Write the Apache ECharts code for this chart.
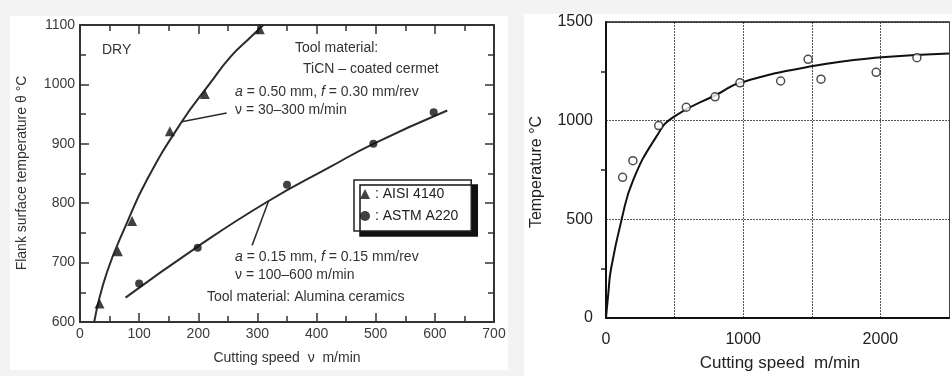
<!DOCTYPE html>
<html>
<head>
<meta charset="utf-8">
<title>Cutting speed vs temperature</title>
<script src="https://cdn.jsdelivr.net/npm/echarts@6/dist/echarts.min.js"></script>
<style>
  html, body { margin: 0; padding: 0; background: #f3f3f3; }
  #chart { width: 952px; height: 376px; }
</style>
</head>
<body>
<div id="chart"></div>
<script>
// left panel: flank temperature vs cutting speed
const aisiPoints = [[33, 631], [64, 719], [88, 770], [152, 921], [211, 984], [304, 1093]];
const astmPoints = [[100, 665], [199, 725], [350, 831], [496, 900], [598, 953]];
const aisiCurve = [[24, 600], [45, 682], [79, 766], [113, 839], [172, 937], [220, 1002], [254, 1046], [287, 1078], [310, 1100]];
const astmCurve = [[77, 641], [199, 727], [316, 802], [423, 861], [496, 900], [621, 956]];
const leftXTicks = { min: 0, max: 700, step: 100 };
const leftYTicks = { min: 600, max: 1100, step: 100 };

// right panel: temperature vs cutting speed
const tempPoints = [[121, 713], [196, 797], [384, 975], [585, 1068], [795, 1121], [976, 1192],
  [1273, 1201], [1473, 1311], [1567, 1210], [1969, 1245], [2266, 1319]];
const tempCurve = [[0, 0], [17, 125], [36, 247], [114, 500], [198, 699], [367, 919], [488, 1017],
  [826, 1139], [976, 1192], [1509, 1277], [2010, 1321], [2500, 1341]];
const rightXTicks = { min: 0, max: 2500, step: 500 };
const rightYTicks = { min: 0, max: 1500, step: 500 };

const FONT = "'Liberation Sans', Arial, Helvetica, sans-serif";
const INK = '#2b2b2b';

const myChart = echarts.init(document.getElementById('chart'));

// frame axis for the left panel (ticks point inward on every side)
function leftAxis(t, pos, labels, grid) {
  return {
    type: 'value', gridIndex: grid, position: pos,
    min: t.min, max: t.max, interval: t.step,
    axisLine: { show: true, onZero: false, lineStyle: { color: '#333', width: 2 } },
    axisTick: { show: true, inside: true, length: 9, lineStyle: { color: '#333', width: 1.5 } },
    minorTick: { show: true, splitNumber: 2, length: 6, lineStyle: { color: '#333', width: 1.5 } },
    splitLine: { show: false },
    axisLabel: { show: labels, color: '#3a3a3a', fontSize: 14, fontFamily: FONT, margin: 5, formatter: v => String(v) }
  };
}

function italicText(x, y, text) {
  return {
    type: 'text', x: x, y: y, z: 50,
    style: {
      text: text, fill: '#333', fontSize: 14, fontFamily: FONT, verticalAlign: 'middle',
      rich: { i: { fontStyle: 'italic', fontSize: 14, fontFamily: FONT, fill: '#333' } }
    }
  };
}

const option = {
  backgroundColor: '#f3f3f3',
  animation: false,
  grid: [
    { left: 80, top: 25, width: 414, height: 297 },
    { left: 606, top: 22, width: 345, height: 296 }
  ],
  legend: {
    data: ['AISI 4140', 'ASTM A220'],
    orient: 'vertical',
    left: 354, top: 180,
    padding: [7, 13, 8, 6],
    itemGap: 8, itemWidth: 10, itemHeight: 10,
    backgroundColor: '#fff',
    borderColor: '#222', borderWidth: 1.5, borderRadius: 0,
    shadowColor: '#111', shadowBlur: 0, shadowOffsetX: 6, shadowOffsetY: 5,
    formatter: name => ': ' + name,
    textStyle: { color: '#222', fontSize: 14, fontFamily: FONT, lineHeight: 14 }
  },
  xAxis: [
    leftAxis(leftXTicks, 'bottom', true, 0),
    leftAxis(leftXTicks, 'top', false, 0),
    {
      type: 'value', gridIndex: 1, position: 'bottom',
      min: rightXTicks.min, max: rightXTicks.max, interval: rightXTicks.step,
      axisLine: { show: true, onZero: false, lineStyle: { color: '#111', width: 2 } },
      axisTick: { show: false },
      splitLine: { show: true, lineStyle: { color: '#555', type: [2, 1], width: 1 } },
      axisLabel: {
        color: '#222', fontSize: 16, fontFamily: FONT, margin: 14,
        formatter: v => (v % 1000 === 0 && v < rightXTicks.max) ? String(v) : ''
      }
    },
    {
      type: 'value', gridIndex: 1, position: 'top',
      min: rightXTicks.min, max: rightXTicks.max, interval: rightXTicks.step,
      axisLine: { show: true, onZero: false, lineStyle: { color: '#222', width: 1.5 } },
      axisTick: { show: false }, splitLine: { show: false }, axisLabel: { show: false }
    }
  ],
  yAxis: [
    leftAxis(leftYTicks, 'left', true, 0),
    leftAxis(leftYTicks, 'right', false, 0),
    {
      type: 'value', gridIndex: 1, position: 'left',
      min: rightYTicks.min, max: rightYTicks.max, interval: rightYTicks.step,
      axisLine: { show: true, onZero: false, lineStyle: { color: '#111', width: 2 } },
      axisTick: { show: false },
      minorTick: { show: true, splitNumber: 2, length: 5, lineStyle: { color: '#222', width: 1.5 } },
      splitLine: { show: true, lineStyle: { color: '#555', type: [2, 1], width: 1 } },
      axisLabel: { color: '#222', fontSize: 16, fontFamily: FONT, margin: 13, formatter: v => String(v) }
    },
    {
      type: 'value', gridIndex: 1, position: 'right',
      min: rightYTicks.min, max: rightYTicks.max, interval: rightYTicks.step,
      axisLine: { show: true, onZero: false, lineStyle: { color: '#444', width: 1 } },
      axisTick: { show: false }, splitLine: { show: false }, axisLabel: { show: false }
    }
  ],
  series: [
    {
      name: 'AISI curve', type: 'line', xAxisIndex: 0, yAxisIndex: 0,
      data: aisiCurve, smooth: 0.5, showSymbol: false, silent: true,
      lineStyle: { color: INK, width: 2 },
      markLine: {
        silent: true, symbol: 'none', label: { show: false },
        lineStyle: { color: INK, width: 1.5, type: 'solid' },
        data: [[{ coord: [172, 937] }, { coord: [248, 952] }]]
      }
    },
    {
      name: 'ASTM curve', type: 'line', xAxisIndex: 0, yAxisIndex: 0,
      data: astmCurve, smooth: 0.5, showSymbol: false, silent: true,
      lineStyle: { color: INK, width: 2 },
      markLine: {
        silent: true, symbol: 'none', label: { show: false },
        lineStyle: { color: INK, width: 1.5, type: 'solid' },
        data: [[{ coord: [319, 804] }, { coord: [291, 729] }]]
      }
    },
    {
      name: 'AISI 4140', type: 'scatter', xAxisIndex: 0, yAxisIndex: 0,
      data: aisiPoints, symbol: 'triangle', symbolSize: 10, z: 5,
      itemStyle: { color: '#111' }
    },
    {
      name: 'ASTM A220', type: 'scatter', xAxisIndex: 0, yAxisIndex: 0,
      data: astmPoints, symbol: 'circle', symbolSize: 8, z: 5,
      itemStyle: { color: '#111' }
    },
    {
      name: 'Temperature curve', type: 'line', xAxisIndex: 2, yAxisIndex: 2,
      data: tempCurve, smooth: 0.5, showSymbol: false, silent: true,
      lineStyle: { color: '#111', width: 2 }
    },
    {
      name: 'Measured', type: 'scatter', xAxisIndex: 2, yAxisIndex: 2,
      data: tempPoints, symbol: 'circle', symbolSize: 8, z: 5,
      itemStyle: { color: '#fff', borderColor: '#222', borderWidth: 1.5 }
    }
  ],
  graphic: [
    // white panels on the grey page
    { type: 'rect', z: -100, silent: true, shape: { x: 10, y: 16, width: 498, height: 354 }, style: { fill: '#fff' } },
    { type: 'rect', z: -100, silent: true, shape: { x: 524, y: 14, width: 428, height: 362 }, style: { fill: '#fff' } },

    // left panel texts
    { type: 'text', x: 102, y: 50, z: 50, style: { text: 'DRY', fill: '#333', fontSize: 14, fontFamily: FONT, verticalAlign: 'middle' } },
    { type: 'text', x: 295, y: 48, z: 50, style: { text: 'Tool material:', fill: '#333', fontSize: 14, fontFamily: FONT, verticalAlign: 'middle' } },
    { type: 'text', x: 303, y: 69, z: 50, style: { text: 'TiCN – coated cermet', fill: '#333', fontSize: 14, fontFamily: FONT, verticalAlign: 'middle' } },
    italicText(235, 92, '{i|a} = 0.50 mm, {i|f} = 0.30 mm/rev'),
    italicText(235, 110, 'ν = 30–300 m/min'),
    italicText(235, 257, '{i|a} = 0.15 mm, {i|f} = 0.15 mm/rev'),
    italicText(235, 275, 'ν = 100–600 m/min'),
    italicText(207, 297, 'Tool material: Alumina ceramics'),
    {
      type: 'text', x: 22, y: 173, rotation: Math.PI / 2, z: 50,
      style: { text: 'Flank surface temperature θ °C', fill: '#333', fontSize: 14, fontFamily: FONT, align: 'center', verticalAlign: 'middle' }
    },
    {
      type: 'text', x: 287, y: 358, z: 50,
      style: { text: 'Cutting speed  ν  m/min', fill: '#333', fontSize: 14, fontFamily: FONT, align: 'center', verticalAlign: 'middle' }
    },

    // right panel titles
    {
      type: 'text', x: 537, y: 172, rotation: Math.PI / 2, z: 50,
      style: { text: 'Temperature °C', fill: '#222', fontSize: 16, fontFamily: FONT, align: 'center', verticalAlign: 'middle' }
    },
    {
      type: 'text', x: 780, y: 363, z: 50,
      style: { text: 'Cutting speed  m/min', fill: '#222', fontSize: 17, fontFamily: FONT, align: 'center', verticalAlign: 'middle' }
    }
  ]
};

myChart.setOption(option);
</script>
</body>
</html>
